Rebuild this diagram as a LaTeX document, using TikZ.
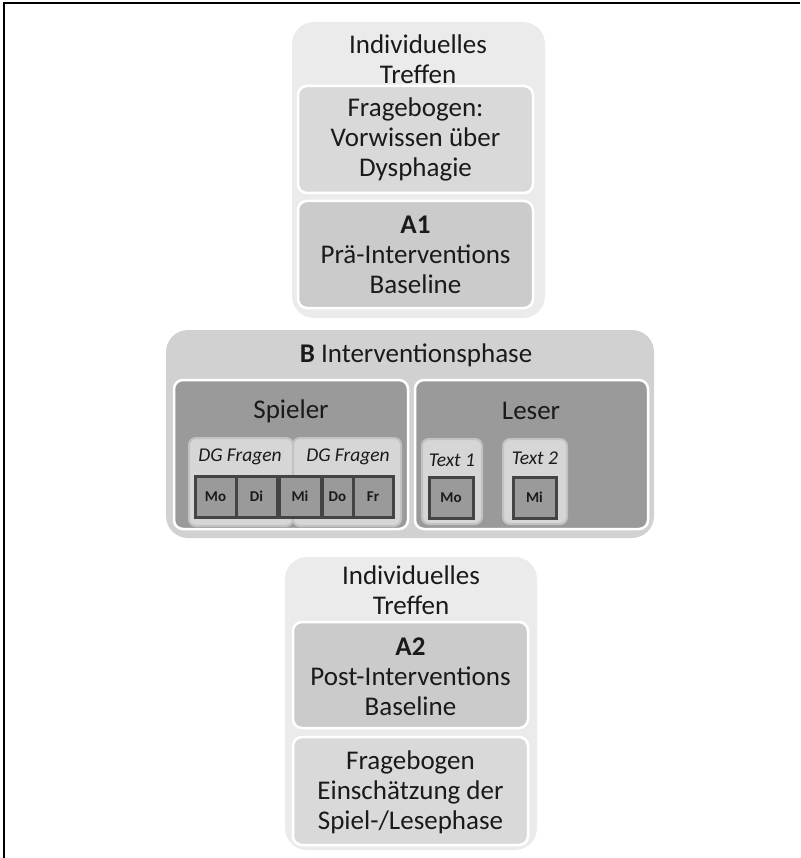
\documentclass[tikz,border=0pt]{standalone}
\usepackage{fontspec}
\setmainfont{Carlito}
\usetikzlibrary{calc}
\definecolor{grplight}{HTML}{EBEBEB}
\definecolor{grpmid}{HTML}{D1D1D1}
\definecolor{panelight}{HTML}{D9D9D9}
\definecolor{panemid}{HTML}{CBCBCB}
\definecolor{panedark}{HTML}{9A9A9A}
\definecolor{slotgray}{HTML}{D6D6D6}
\definecolor{slotedge}{HTML}{C2C2C2}
\definecolor{daygray}{HTML}{9A9A9A}
\definecolor{dayedge}{HTML}{444444}
\definecolor{txt}{HTML}{1A1A1A}
\newcommand{\grpbox}[5]{\fill[grp=#5] ( #1 , #2 ) rectangle ( #3 , #4 );}
\newcommand{\panebox}[5]{\filldraw[pane=#5] ( #1 , #2 ) rectangle ( #3 , #4 );}
\newcommand{\slotbox}[4]{\filldraw[slot] ( #1 , #2 ) rectangle ( #3 , #4 );}
\begin{document}
\begin{tikzpicture}[x=1pt, y=-1pt,
    grp/.style={fill=#1, rounded corners=22pt},
    pane/.style={fill=#1, draw=white, line width=2.5pt, rounded corners=9pt},
    slot/.style={fill=slotgray, draw=slotedge, line width=2pt, rounded corners=7pt},
    day/.style={fill=daygray, draw=dayedge, line width=3pt, inner sep=0pt,
        minimum height=41pt, font=\fontsize{15}{17}\selectfont\bfseries, text=txt},
    big/.style={font=\fontsize{27}{30}\selectfont, align=center, text=txt, inner sep=0pt},
    small/.style={font=\fontsize{19.5}{22}\selectfont\itshape, text=txt, inner sep=0pt}]
    \useasboundingbox (0,0) rectangle (800,858);
    % frame
    \draw[line width=2pt] (4,858) -- (4,3) -- (800,3);
    % top meeting
    \grpbox{292}{22}{545}{318}{grplight}
    \node[big] (titletop) at (418,59) {Individuelles\\Treffen};
    \panebox{298}{86}{533}{193}{panelight}
    \node[big] (quest1) at (415.5,139) {Fragebogen:\\Vorwissen über\\Dysphagie};
    \panebox{298}{201}{533}{308}{panemid}
    \node[big] (base1) at (415.5,255) {\textbf{A1}\\Prä-Interventions\\Baseline};
    % intervention phase
    \grpbox{166}{330}{654}{538}{grpmid}
    \node[big] (phase) at (416,355) {\textbf{B} Interventionsphase};
    \panebox{174}{380}{408}{529}{panedark}
    \node[big] (player) at (291,411) {Spieler};
    \panebox{415}{380}{648}{529}{panedark}
    \node[big] (reader) at (531,411) {Leser};
    % player slots
    \slotbox{189}{438}{293}{526}
    \slotbox{293}{438}{401}{526}
    \node[small] (dga) at (240,457) {DG Fragen};
    \node[small] (dgb) at (348,457) {DG Fragen};
    \node[day, minimum width=41pt] (mo) at (215.5,496.5) {Mo};
    \node[day, minimum width=41pt] (di) at (256.5,496.5) {Di};
    \node[day, minimum width=42pt] (mi) at (300,496.5) {Mi};
    \node[day, minimum width=31pt] (do) at (337.5,496.5) {Do};
    \node[day, minimum width=40pt] (fr) at (373,496.5) {Fr};
    % reader slots
    \slotbox{422}{439}{482}{524}
    \node[small] (texta) at (452,460) {Text 1};
    \node[day, minimum width=44pt] (moread) at (451,497.5) {Mo};
    \slotbox{503}{439}{567}{524}
    \node[small] (textb) at (535,458) {Text 2};
    \node[day, minimum width=43pt] (miread) at (534.5,497.5) {Mi};
    % bottom meeting
    \grpbox{285}{557}{537}{850}{grplight}
    \node[big] (titlebot) at (411,590) {Individuelles\\Treffen};
    \panebox{293}{622}{528}{728}{panemid}
    \node[big] (base2) at (410.5,677) {\textbf{A2}\\Post-Interventions\\Baseline};
    \panebox{293}{737}{528}{845}{panelight}
    \node[big] (quest2) at (410.5,792) {Fragebogen\\Einschätzung der\\Spiel-/Lesephase};
\end{tikzpicture}
\end{document}
